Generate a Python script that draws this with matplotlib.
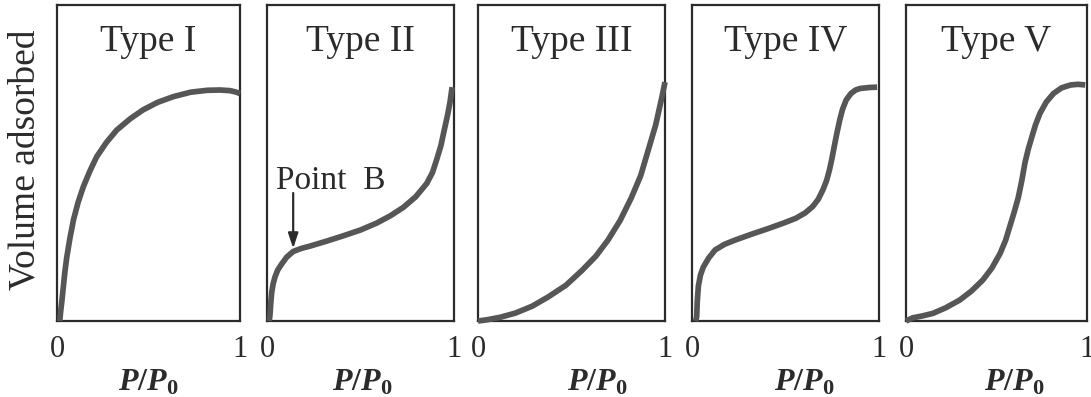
import matplotlib
matplotlib.use("Agg")
import matplotlib.pyplot as plt

plt.rcParams['font.family'] = ['Liberation Serif', 'DejaVu Serif']
plt.rcParams['mathtext.fontset'] = 'custom'
plt.rcParams['mathtext.rm'] = 'Liberation Serif:bold'
plt.rcParams['mathtext.it'] = 'Liberation Serif:italic:bold'
plt.rcParams['mathtext.bf'] = 'Liberation Serif:bold'

titles = ["Type I", "Type II", "Type III", "Type IV", "Type V"]
tick_labels = ["0", "1"]

type1_x = [0.015, 0.02, 0.026, 0.035, 0.043, 0.053, 0.07, 0.09, 0.115, 0.144, 0.18, 0.217,
           0.27, 0.326, 0.40, 0.47, 0.55, 0.636, 0.73, 0.82, 0.89, 0.945, 0.975, 1.0]
type1_y = [0.0, 0.03, 0.06, 0.11, 0.155, 0.20, 0.26, 0.32, 0.375, 0.425, 0.475, 0.52,
           0.565, 0.604, 0.64, 0.668, 0.692, 0.71, 0.724, 0.73, 0.731, 0.729, 0.725, 0.72]

type2_x = [0.012, 0.016, 0.02, 0.025, 0.033, 0.043, 0.058, 0.078, 0.105, 0.14, 0.185, 0.23,
           0.32, 0.41, 0.5, 0.587, 0.66, 0.73, 0.795, 0.854, 0.885, 0.907, 0.93, 0.95,
           0.965, 0.978, 0.99]
type2_y = [0.0, 0.02, 0.055, 0.09, 0.118, 0.14, 0.162, 0.18, 0.202, 0.22, 0.23, 0.237,
           0.253, 0.27, 0.288, 0.31, 0.333, 0.36, 0.393, 0.435, 0.47, 0.51, 0.555, 0.61,
           0.65, 0.69, 0.74]

type3_x = [0.0, 0.05, 0.12, 0.2, 0.29, 0.375, 0.47, 0.556, 0.63, 0.695, 0.76, 0.82, 0.87,
           0.91, 0.95, 0.984, 1.0]
type3_y = [0.0, 0.004, 0.012, 0.025, 0.047, 0.076, 0.113, 0.16, 0.205, 0.256, 0.318, 0.39,
           0.46, 0.54, 0.62, 0.71, 0.756]

type4_x = [0.02, 0.025, 0.028, 0.034, 0.045, 0.06, 0.09, 0.124, 0.175, 0.23, 0.32, 0.41,
           0.49, 0.555, 0.605, 0.645, 0.675, 0.70, 0.72, 0.735, 0.748, 0.76, 0.775, 0.79,
           0.805, 0.825, 0.85, 0.875, 0.90, 0.95, 0.99]
type4_y = [0.0, 0.014, 0.06, 0.11, 0.145, 0.17, 0.20, 0.225, 0.243, 0.256, 0.275, 0.293,
           0.31, 0.325, 0.342, 0.362, 0.385, 0.415, 0.445, 0.478, 0.513, 0.55, 0.595, 0.636,
           0.67, 0.70, 0.72, 0.731, 0.736, 0.739, 0.74]

type5_x = [0.0, 0.037, 0.09, 0.148, 0.22, 0.296, 0.36, 0.425, 0.475, 0.52, 0.55, 0.574,
           0.598, 0.62, 0.64, 0.657, 0.675, 0.694, 0.715, 0.74, 0.775, 0.815, 0.86, 0.91,
           0.95, 0.99]
type5_y = [0.0, 0.01, 0.016, 0.024, 0.042, 0.066, 0.094, 0.13, 0.168, 0.214, 0.255, 0.30,
           0.345, 0.39, 0.445, 0.50, 0.543, 0.58, 0.62, 0.657, 0.693, 0.72, 0.738, 0.747,
           0.749, 0.747]

point_b = (0.14, 0.23)

curves = [(type1_x, type1_y), (type2_x, type2_y), (type3_x, type3_y),
          (type4_x, type4_y), (type5_x, type5_y)]

W, H = 1091, 397
fig = plt.figure(figsize=(W / 100, H / 100), dpi=100)

# panel edges in pixels
panels = [(57, 240), (267, 454), (478, 665), (692, 879), (906, 1087)]
label_x = [0.50, 0.51, 0.64, 0.60, 0.60]
top, bottom = 5, 321
ink = "#2b2b2b"
curve_col = "#565656"

for i, (l, r) in enumerate(panels):
    ax = fig.add_axes([l / W, (H - bottom) / H, (r - l) / W, (bottom - top) / H])
    x, y = curves[i]
    ax.plot(x, y, color=curve_col, lw=4.1, solid_joinstyle='round',
            solid_capstyle='butt', clip_on=False, zorder=3)
    ax.set_xlim(0, 1)
    ax.set_ylim(0, 1)
    for s in ax.spines.values():
        s.set_color(ink)
        s.set_linewidth(1.6)
    ax.set_yticks([])
    ax.set_xticks([0, 1])
    ax.set_xticklabels(tick_labels, fontsize=22, color=ink)
    ax.tick_params(axis='x', length=0, pad=10)
    ax.set_xlabel(r"$P/P_\mathrm{0}$", fontsize=23, color=ink, va='center')
    ax.xaxis.set_label_coords(label_x[i], -0.196)
    ax.text(0.5, 0.855, titles[i], transform=ax.transAxes, ha='center', va='baseline',
            fontsize=27, color=ink)
    if i == 1:
        ax.annotate("", xy=point_b, xytext=(point_b[0], 0.405),
                    arrowprops=dict(arrowstyle='-|>,head_length=0.9,head_width=0.3',
                                    color=ink, lw=1.6, shrinkA=0, shrinkB=0))
        ax.text(0.05, 0.418, "Point  B", fontsize=24, color=ink, ha='left', va='baseline')

fig.text(25 / W, 1 - 160 / H, "Volume adsorbed", rotation=90, ha='center', va='center',
         fontsize=27, color=ink)

fig.savefig("out.png", dpi=100, facecolor='white')
